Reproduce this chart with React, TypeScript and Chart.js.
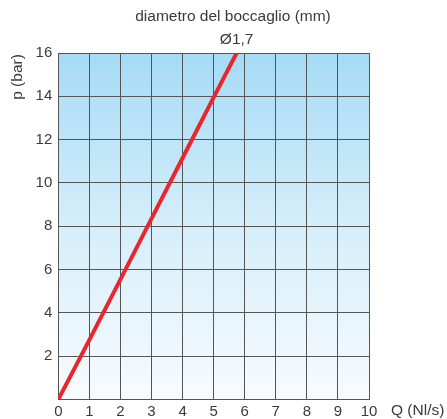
import React, { useEffect, useRef } from "react";
import { Chart, registerables } from "chart.js";

Chart.register(...registerables);

const flowQ = [0, 1, 2, 3, 4, 5, 5.74];
const pressureP = [0, 2.75, 5.55, 8.35, 11.15, 13.95, 16];
const xTicks = [0, 1, 2, 3, 4, 5, 6, 7, 8, 9, 10];
const yTicks = [0, 2, 4, 6, 8, 10, 12, 14, 16];
const chartTitle = "diametro del boccaglio (mm)";
const seriesLabel = "Ø1,7";
const xTitle = "Q (Nl/s)";
const yTitle = "p (bar)";

const FONT = "'Liberation Sans', Arial, Helvetica, sans-serif";

export default function App() {
  const ref = useRef<HTMLCanvasElement | null>(null);
  useEffect(() => {
    const canvas = ref.current!;
    const decor = {
      id: "decor",
      beforeDraw(chart: any) {
        const { ctx, chartArea: a } = chart;
        const g = ctx.createLinearGradient(0, a.top, 0, a.bottom);
        g.addColorStop(0, "#a6dbf6");
        g.addColorStop(0.5, "#d5eefa");
        g.addColorStop(1, "#f8fbfe");
        ctx.save();
        ctx.fillStyle = g;
        ctx.fillRect(a.left, a.top, a.right - a.left, a.bottom - a.top);
        ctx.restore();
      },
      afterDraw(chart: any) {
        const { ctx, scales } = chart;
        ctx.save();
        ctx.fillStyle = "#3a3a3a";
        ctx.font = `15.5px ${FONT}`;
        ctx.textAlign = "center";
        ctx.textBaseline = "middle";
        const endX = scales.x.getPixelForValue(flowQ[flowQ.length - 1]);
        ctx.fillText(chartTitle, 233, 17);
        ctx.fillText(seriesLabel, endX, 40);
        ctx.textAlign = "left";
        ctx.fillText(xTitle, 391, 411);
        ctx.translate(18, 77);
        ctx.rotate(-Math.PI / 2);
        ctx.textAlign = "center";
        ctx.fillText(yTitle, 0, 0);
        ctx.restore();
      },
    };
    const chart = new Chart(canvas, {
      type: "line",
      data: {
        datasets: [
          {
            label: seriesLabel,
            data: flowQ.map((q, i) => ({ x: q, y: pressureP[i] })),
            borderColor: "#e8262b",
            borderWidth: 4,
            pointRadius: 0,
            tension: 0,
          },
        ],
      },
      options: {
        animation: false,
        responsive: false,
        layout: { padding: { left: 8, right: 78, top: 53, bottom: 0 } },
        plugins: { legend: { display: false }, title: { display: false }, tooltip: { enabled: false } },
        scales: {
          x: {
            type: "linear",
            min: 0,
            max: 10,
            afterBuildTicks: (s: any) => {
              s.ticks = xTicks.map((v) => ({ value: v }));
            },
            afterFit: (s: any) => {
              s.height = 19.5;
            },
            grid: { color: "#555", lineWidth: 1, drawTicks: false },
            border: { color: "#555", width: 1 },
            ticks: { color: "#3a3a3a", font: { family: FONT, size: 15 }, padding: 3, maxRotation: 0 },
          },
          y: {
            type: "linear",
            min: 0,
            max: 16,
            afterBuildTicks: (s: any) => {
              s.ticks = yTicks.map((v) => ({ value: v }));
            },
            afterFit: (s: any) => {
              s.width = 50.3;
            },
            grid: { color: "#555", lineWidth: 1, drawTicks: false },
            border: { color: "#555", width: 1 },
            ticks: {
              color: "#3a3a3a",
              font: { family: FONT, size: 15 },
              padding: 6,
              callback: (v: any) => (v === 0 ? "" : String(v)),
            },
          },
        },
      },
      plugins: [decor],
    } as any);
    return () => chart.destroy();
  }, []);
  return (
    <div style={{ position: "absolute", left: 0, top: 0, width: 447, height: 419, background: "#fff" }}>
      <canvas ref={ref} width={447} height={419} style={{ display: "block" }} />
    </div>
  );
}
